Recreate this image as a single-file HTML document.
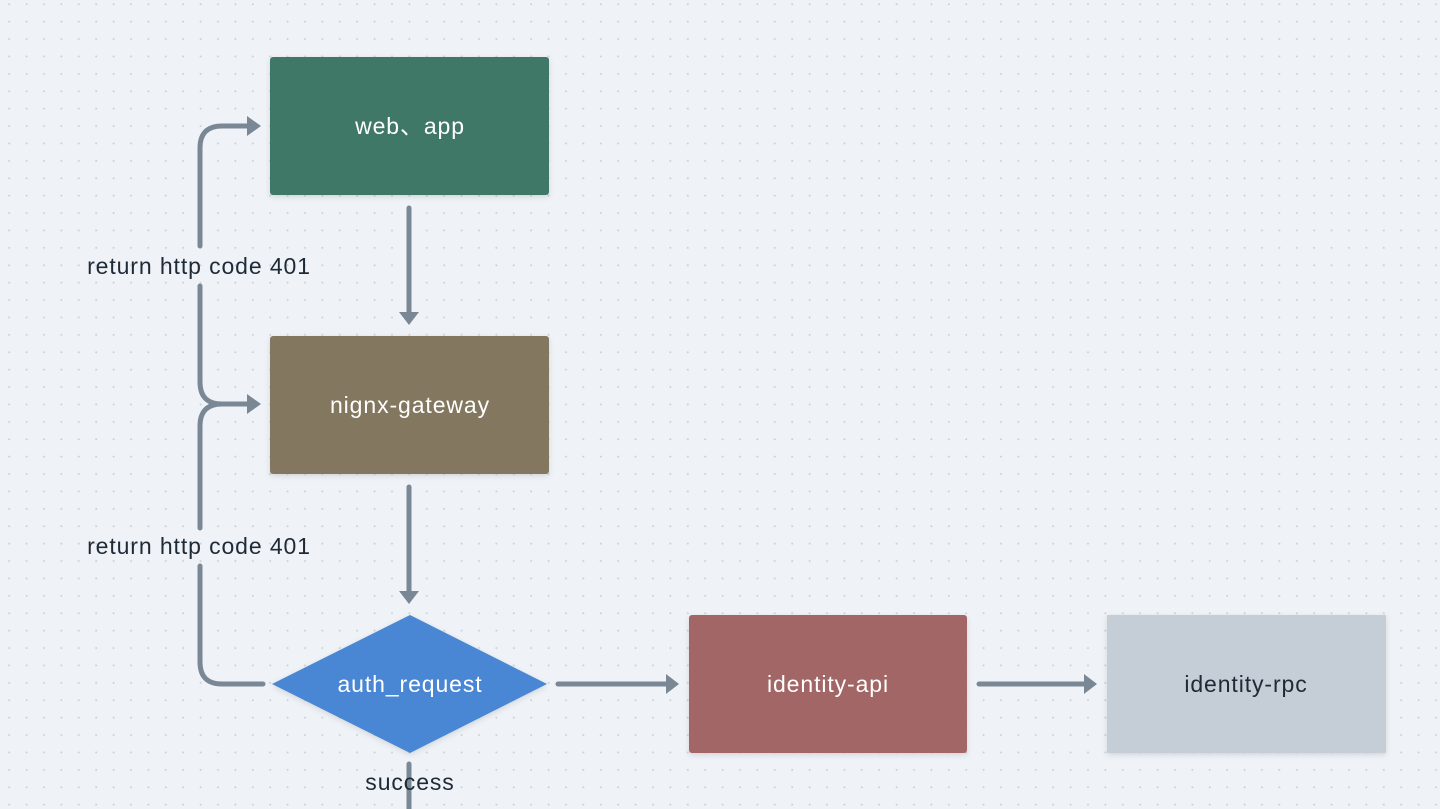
<!DOCTYPE html>
<html><head><meta charset="utf-8"><style>
html,body{margin:0;padding:0;width:1440px;height:809px;overflow:hidden;background:#eff3f7;}
svg{display:block}
text{font-family:"Liberation Sans","Noto Sans CJK SC",sans-serif;font-size:23px;letter-spacing:0.9px;}
</style></head><body>
<svg width="1440" height="809" viewBox="0 0 1440 809" xmlns="http://www.w3.org/2000/svg">
<defs>
<pattern id="dots" x="8" y="3" width="17.4" height="17.4" patternUnits="userSpaceOnUse">
<circle cx="1.2" cy="1.2" r="1" fill="#c9d0d8"/>
</pattern>
<filter id="sh" x="-10%" y="-10%" width="120%" height="130%"><feDropShadow dx="0" dy="2" stdDeviation="3" flood-color="#000" flood-opacity="0.12"/></filter>
</defs>
<rect width="1440" height="809" fill="#eff3f7"/>
<rect width="1440" height="809" fill="url(#dots)"/>

<g fill="none" stroke="#7a8795" stroke-width="5" stroke-linecap="round">
<line x1="409" y1="208" x2="409" y2="314"/>
<line x1="409" y1="487" x2="409" y2="593"/>
<line x1="558" y1="684" x2="668" y2="684"/>
<line x1="979" y1="684" x2="1086" y2="684"/>
<line x1="409" y1="764" x2="409" y2="809"/>
<path d="M263 684 H222 Q200 684 200 662 V566"/>
<path d="M200 528 V426 Q200 404 222 404 H248"/>
<path d="M222 404 Q200 404 200 382 V286"/>
<path d="M200 246 V148 Q200 126 222 126 H248"/>
</g>
<g fill="#7a8795">
<polygon points="399,312 419,312 409,325"/>
<polygon points="399,591 419,591 409,604"/>
<polygon points="666,674 666,694 679,684"/>
<polygon points="1084,674 1084,694 1097,684"/>
<polygon points="247,394 247,414 261,404"/>
<polygon points="247,116 247,136 261,126"/>
</g>

<rect x="270" y="57" width="279" height="138" rx="3" fill="#3f7868" filter="url(#sh)"/>
<rect x="270" y="336" width="279" height="138" rx="3" fill="#83775e" filter="url(#sh)"/>
<polygon points="272,684 410,615 547,684 410,753" fill="#4a86d4" filter="url(#sh)"/>
<rect x="689" y="615" width="278" height="138" rx="3" fill="#a16665" filter="url(#sh)"/>
<rect x="1107" y="615" width="279" height="138" rx="1" fill="#c5ced6" filter="url(#sh)"/>

<g text-anchor="middle" fill="#ffffff">
<text x="410" y="134">web、app</text>
<text x="410" y="413">nignx-gateway</text>
<text x="410" y="692">auth_request</text>
<text x="828" y="692">identity-api</text>
</g>
<g text-anchor="middle" fill="#1f2a37">
<text x="1246" y="692">identity-rpc</text>
<text x="199" y="274">return http code 401</text>
<text x="199" y="554">return http code 401</text>
<text x="410" y="790">success</text>
</g>
</svg>
</body></html>
